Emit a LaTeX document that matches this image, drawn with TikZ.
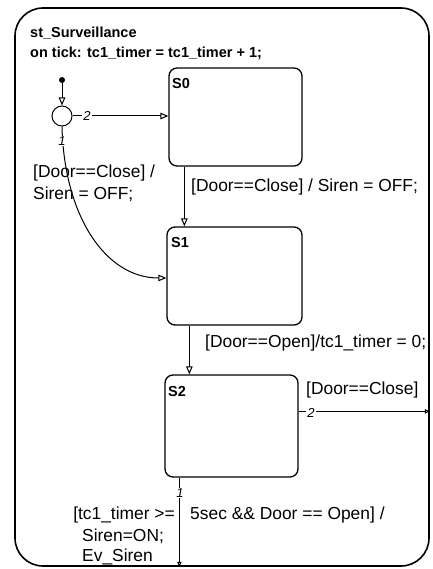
\documentclass[tikz,border=0pt]{standalone}
\usepackage{fontspec}
\setmainfont{Liberation Sans}
\usetikzlibrary{arrows.meta,calc}
\begin{document}
\begin{tikzpicture}[x=1pt,y=-1pt,
  lbl/.style={font=\fontsize{17.4}{19}\selectfont, inner sep=0pt, anchor=west},
  ttl/.style={font=\bfseries\fontsize{14.5}{16}\selectfont, inner sep=0pt, anchor=west},
  stt/.style={draw, line width=1.3pt, rounded corners=8pt, inner sep=0pt},
  tr/.style={line width=1pt, -{Triangle[open,length=8pt,width=6.5pt]}},
  trs/.style={line width=1pt, -{Triangle[open,length=5pt,width=4.5pt]}},
  num/.style={font=\fontsize{13}{13}\selectfont\itshape, fill=white, inner sep=1pt},
  ]
\useasboundingbox (0,0) rectangle (432,569);
\node[draw, line width=1.6pt, rounded corners=28pt, minimum width=414pt, minimum height=558pt, inner sep=0pt] (outer) at (222,287) {};
\node[ttl] (title) at (30,33) {st\_Surveillance};
\node[ttl] (tick) at (30,53) {on tick: tc1\_timer = tc1\_timer + 1;};
% states
\node[stt, minimum width=133pt, minimum height=98pt] (S0) at (235.5,117) {};
\node[stt, minimum width=135pt, minimum height=98pt] (S1) at (234.5,276) {};
\node[stt, minimum width=133pt, minimum height=102pt] (S2) at (231.5,426) {};
\node[ttl] (S0l) at (172,84) {S0};
\node[ttl] (S1l) at (171,243) {S1};
\node[ttl] (S2l) at (168,392) {S2};
% junction and default transition
\node[circle, draw, line width=1pt, minimum size=20pt, inner sep=0pt] (J) at (62,116) {};
\node[circle, fill, inner sep=0pt, minimum size=6pt] (D) at (62,80) {};
\draw[tr] (D) -- (J);
\draw[tr] (J.east) -- (J.east -| S0.west);
\node[num] (n2a) at (87,116) {2};
\draw[tr] (J.south) .. controls (64,215) and (105,278) .. ($(S1.west)+(0,2)$);
\node[num] (n1a) at (62,141) {1};
\node[lbl] (lj1) at (33,173) {[Door==Close] /};
\node[lbl] (lj2) at (33,194) {Siren = OFF;};
% S0 -> S1
\draw[tr] ($(S0.south west)+(16,0)$) -- ($(S1.north west)+(18,0)$);
\node[lbl] (l01) at (191,187) {[Door==Close] / Siren = OFF;};
% S1 -> S2
\draw[tr] ($(S1.south west)+(23,0)$) -- ($(S2.north west)+(25,0)$);
\node[lbl] (l12) at (205,343) {[Door==Open]/tc1\_timer = 0;};
% S2 -> right
\coordinate (r2) at ($(S2.north east)+(0,37)$);
\draw[trs] (r2) -- (r2 -| outer.east);
\node[num] (n2b) at (311,413) {2};
\node[lbl] (lr) at (306,390) {[Door==Close]};
% S2 -> bottom
\coordinate (b2) at ($(S2.south west)+(15,0)$);
\draw[trs] (b2) -- (b2 |- outer.south);
\node[num] (n1b) at (180,493) {1};
\node[lbl, anchor=east] (lb1a) at (175,515) {[tc1\_timer >=};
\node[lbl] (lb1b) at (190,515) {5sec \&\& Door == Open] /};
\node[lbl] (lb2) at (82,536) {Siren=ON;};
\node[lbl] (lb3) at (82,557) {Ev\_Siren};
\end{tikzpicture}
\end{document}
